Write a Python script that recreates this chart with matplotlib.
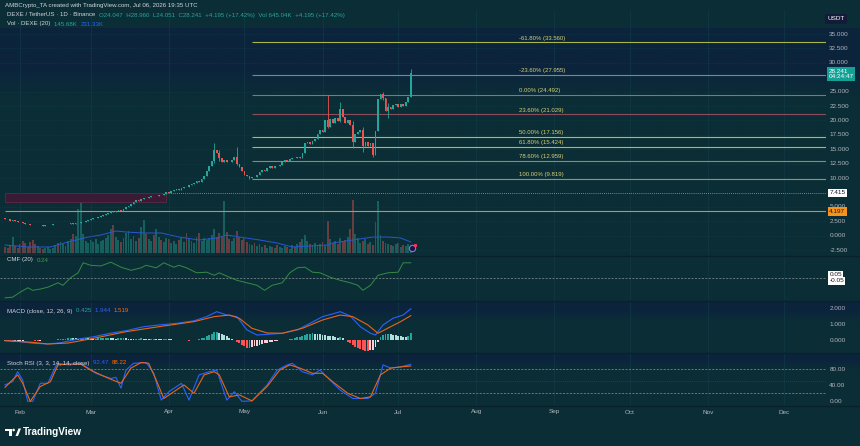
import numpy as np
import pandas as pd
import matplotlib
matplotlib.use("Agg")
import matplotlib.pyplot as plt
from matplotlib.colors import to_rgb
from matplotlib.patches import Rectangle, Polygon, Circle

plt.rcParams['font.family'] = ['Liberation Sans', 'DejaVu Sans']

W, H = 860, 446
BG = '#0b2e36'
TINT = '#0c2140'
TXT = '#b2b5be'
UP, DOWN = '#26a69a', '#ef5350'
BLUE, ORANGE = '#2962ff', '#ff6d00'

start = pd.Timestamp('2026-01-26')

# daily closes DEXE/USDT, Jan 26 .. Jul 06 2026
closes = [
    2.9, 2.8, 2.6, 2.7, 2.5, 2.4, 2.3, 2.2, 2.1, 2.0,
    1.9, 1.85, 1.8, 1.9, 1.8, 1.75, 1.8, 1.85, 1.9, 1.95,
    2.0, 1.95, 2.0, 2.05, 2.0, 2.1, 2.15, 2.1, 2.2, 2.25,
    2.3, 2.4, 2.5, 2.7, 2.9, 3.0, 3.1, 3.3, 3.4, 3.6,
    3.8, 4.0, 4.3, 4.1, 4.3, 4.4, 4.2, 4.6, 4.9, 5.2,
    5.5, 5.8, 6.1, 6.0, 6.4, 6.6, 6.5, 6.7, 6.9, 6.8,
    6.9, 7.1, 7.0, 7.3, 7.5, 7.4, 7.7, 7.9, 8.1, 8.0,
    8.3, 8.5, 8.4, 8.7, 8.9, 9.2, 9.4, 9.3, 9.8, 10.4,
    11.2, 12.0, 13.0, 14.8, 14.3, 13.5, 12.7, 13.1, 12.8, 12.7,
    13.2, 13.6, 12.4, 11.9, 11.3, 10.6, 10.3, 10.0, 10.2, 10.1,
    10.6, 11.0, 11.4, 11.2, 11.7, 12.0, 11.8, 12.1, 12.0, 12.3,
    12.8, 13.1, 12.9, 13.3, 13.5, 13.4, 13.7, 13.5, 14.4, 16.0,
    16.2, 15.9, 16.5, 16.8, 17.6, 18.3, 18.0, 20.0, 18.9, 20.2,
    19.6, 20.4, 19.9, 22.0, 20.6, 19.5, 20.1, 19.2, 16.2, 17.6,
    17.9, 18.4, 15.6, 16.3, 15.5, 16.0, 14.0, 18.2, 23.8, 24.6,
    23.9, 21.6, 22.3, 21.9, 22.6, 22.9, 22.3, 22.8, 22.5, 23.2,
    24.047, 28.241,
]
first_open = 3.0
# days whose wicks stick out: day -> (high, low)
wicks = {83: (16.0, 12.6), 85: (14.9, 13.0), 92: (15.3, 12.2), 97: (10.4, 9.819),
         128: (24.492, 18.6), 133: (23.2, 19.7), 138: (19.9, 15.2), 142: (18.8, 14.5),
         146: (16.0, 13.6), 150: (24.9, 23.5), 152: (23.0, 20.4), 161: (28.96, 24.05)}

# volume, thousands
volumes = [
    120, 100, 160, 320, 140, 100, 180, 240, 200, 120,
    220, 260, 180, 140, 100, 80, 100, 120, 80, 100,
    160, 200, 220, 180, 140, 240, 280, 380, 340, 880,
    1180, 380, 240, 200, 260, 220, 280, 180, 240, 260,
    300, 360, 480, 560, 320, 260, 220, 300, 400, 440,
    280, 340, 240, 300, 520, 660, 380, 280, 240, 360,
    480, 320, 260, 220, 300, 280, 200, 240, 180, 260,
    300, 220, 400, 280, 240, 200, 320, 400, 240, 300,
    260, 300, 360, 480, 320, 400, 340, 1040, 420, 280,
    240, 300, 440, 320, 260, 300, 220, 180, 160, 200,
    140, 180, 120, 160, 100, 140, 120, 100, 160, 120,
    100, 140, 120, 80, 160, 120, 180, 220, 280, 360,
    240, 180, 160, 200, 140, 180, 220, 160, 640, 280,
    200, 240, 180, 300, 220, 260, 320, 480, 1060, 380,
    300, 200, 240, 280, 180, 220, 160, 620, 1040, 360,
    240, 200, 180, 160, 140, 180, 200, 120, 160, 140,
    180, 120,
]
vol_ma_days = [0, 9, 18, 25, 33, 38, 44, 48, 55, 62, 69, 77, 84, 88, 93, 101,
               108, 114, 121, 128, 130, 138, 146, 152, 157, 161]
vol_ma = [160, 120, 120, 220, 320, 360, 440, 420, 400, 400, 320, 260, 300, 360, 320, 260,
          200, 120, 140, 160, 200, 260, 320, 320, 300, 220]

cmf_days = [0, 3, 6, 9, 11, 14, 17, 21, 23, 26, 29, 31, 34, 38, 42, 46, 50, 54, 56, 60,
            63, 67, 69, 72, 76, 80, 83, 85, 89, 92, 96, 100, 103, 106, 110, 113, 116, 119,
            122, 125, 129, 133, 137, 140, 142, 145, 148, 152, 156, 158, 161]
cmf = [-0.32, -0.31, -0.23, -0.16, -0.20, -0.18, -0.15, -0.08, -0.12, 0.0, 0.08, 0.24, 0.20,
       0.19, 0.25, 0.17, 0.12, 0.16, 0.20, 0.16, 0.24, 0.17, 0.20, 0.16, 0.08, 0.09, 0.04,
       0.08, 0.01, -0.04, -0.08, -0.12, -0.20, -0.12, -0.08, 0.08, 0.16, 0.17, 0.09, 0.08,
       0.01, -0.04, -0.08, -0.12, -0.20, -0.12, 0.04, 0.08, 0.09, 0.24, 0.24]

macd_days = [0, 6, 11, 17, 22, 29, 35, 42, 48, 55, 61, 68, 75, 80, 84, 88, 92, 96, 100, 104,
             110, 116, 121, 126, 130, 133, 137, 141, 145, 147, 150, 154, 158, 161]
macd = [-0.04, -0.10, -0.20, -0.25, -0.17, 0.06, 0.20, 0.43, 0.58, 0.83, 0.94, 1.04, 1.20,
        1.46, 1.77, 1.56, 1.46, 0.63, 0.31, 0.35, 0.42, 0.63, 1.04, 1.46, 1.63, 1.77, 1.50,
        0.83, 0.42, 0.31, 0.94, 1.36, 1.56, 1.944]
signal_days = [0, 11, 17, 25, 35, 48, 61, 75, 83, 89, 93, 98, 104, 110, 118, 126, 133, 138,
               144, 148, 153, 157, 161]
signal = [-0.04, -0.15, -0.25, -0.19, 0.10, 0.52, 0.83, 1.15, 1.46, 1.56, 1.35, 0.73, 0.44,
          0.42, 0.73, 1.25, 1.56, 1.46, 0.94, 0.42, 0.83, 1.15, 1.519]
hist = [
    -0.05, -0.06, -0.08, -0.10, -0.08, -0.06, -0.05, -0.04, -0.03, -0.02,
    -0.02, -0.03, -0.04, -0.05, -0.04, -0.03, -0.02, -0.01, 0.01, 0.02,
    0.03, 0.04, 0.05, 0.06, 0.08, 0.10, 0.12, 0.11, 0.10, 0.09,
    0.10, 0.11, 0.12, 0.10, 0.09, 0.08, 0.09, 0.10, 0.11, 0.12,
    0.12, 0.13, 0.12, 0.10, 0.09, 0.10, 0.11, 0.12, 0.10, 0.09,
    0.08, 0.07, 0.08, 0.09, 0.10, 0.08, 0.06, 0.05, 0.06, 0.07,
    0.06, 0.05, 0.04, 0.05, 0.06, 0.05, 0.04, 0.03, 0.02, 0.03,
    0.02, 0.01, -0.02, -0.04, -0.02, 0.01, 0.03, 0.05, 0.10, 0.15,
    0.22, 0.30, 0.38, 0.48, 0.50, 0.45, 0.38, 0.30, 0.22, 0.15,
    0.08, 0.0, -0.10, -0.20, -0.30, -0.40, -0.48, -0.50, -0.45, -0.40,
    -0.35, -0.30, -0.25, -0.20, -0.16, -0.12, -0.10, -0.07, -0.05, -0.03,
    -0.02, 0.0, 0.02, 0.05, 0.08, 0.12, 0.16, 0.20, 0.26, 0.34,
    0.38, 0.40, 0.42, 0.40, 0.38, 0.36, 0.34, 0.30, 0.28, 0.26,
    0.24, 0.20, 0.15, 0.20, 0.10, 0.0, -0.10, -0.20, -0.30, -0.42,
    -0.50, -0.55, -0.62, -0.68, -0.70, -0.65, -0.60, -0.45, -0.10, 0.20,
    0.32, 0.38, 0.40, 0.38, 0.34, 0.30, 0.27, 0.24, 0.20, 0.18,
    0.22, 0.425,
]

k_days = [0, 3, 5, 7, 9, 11, 14, 17, 20, 21, 25, 30, 33, 36, 42, 44, 46, 48, 51, 56, 59, 62,
          65, 70, 73, 77, 81, 84, 88, 91, 94, 98, 104, 108, 112, 114, 118, 122, 125, 129,
          133, 138, 144, 147, 150, 153, 157, 161]
stoch_k = [41, 49, 74, 53, 0, 0, 45, 45, 86, 95, 91, 95, 83, 70, 57, 60, 33, 78, 95, 97, 70, 3,
           24, 45, 3, 66, 74, 78, 3, 24, 0, 1, 41, 78, 91, 95, 74, 66, 78, 53,
           28, 7, 7, 20, 91, 83, 86, 92.47]
d_days = [0, 5, 7, 10, 14, 18, 21, 25, 30, 34, 38, 42, 46, 50, 54, 57, 60, 63, 67, 71, 75, 79,
          83, 85, 89, 93, 98, 104, 109, 113, 117, 122, 126, 130, 136, 141, 145, 149, 153, 157, 161]
stoch_d = [35, 66, 45, 0, 37, 49, 91, 93, 93, 78, 66, 55, 45, 83, 97, 95, 53, 7, 24, 41, 20, 66,
           74, 66, 11, 16, 1, 37, 78, 91, 83, 70, 70, 49, 20, 7, 11, 66, 83, 86, 88.22]

# fibonacci retracement drawn from the May low
fib_labels = ['-61.80%', '-23.60%', '0.00%', '23.60%', '50.00%', '61.80%', '78.60%', '100.00%']
fib_prices = [33.560, 27.955, 24.492, 21.029, 17.156, 15.424, 12.959, 9.819]
fib_colors = ['#a8b848', '#8e8270', '#8a7470', '#8c4c5c', '#b4bc44', '#c0b444', '#958c52', '#a88c52']
fib_start = 98

price_ticks = [35, 32.5, 30, 25, 22.5, 20, 17.5, 15, 12.5, 10, 5, 2.5, 0, -2.5]
months = ['Feb', 'Mar', 'Apr', 'May', 'Jun', 'Jul', 'Aug', 'Sep', 'Oct', 'Nov', 'Dec']

# ---------------------------------------------------------------
fig = plt.figure(figsize=(W / 100, H / 100), dpi=100, facecolor=BG)
XR = 826  # right edge of the panes in px
XLIM = (-2.0, (XR - 5) / 2.52)

# background: darker navy tint near the top of some panes
bga = fig.add_axes([0, 0, 1, 1], zorder=-5)
bga.axis('off')
rows = np.zeros(H)
for top, full, fade in ((28, 70, 100), (301, 310, 322), (353, 360, 370)):
    yy = np.arange(H)
    w = np.where((yy >= top) & (yy <= full), 1.0, 0.0)
    w = np.maximum(w, np.where((yy > full) & (yy < fade), (fade - yy) / (fade - full), 0.0))
    rows = np.maximum(rows, w * 0.7)
c0, c1 = np.array(to_rgb(BG)), np.array(to_rgb(TINT))
img = (c0[None, :] * (1 - rows[:, None]) + c1[None, :] * rows[:, None])[:, None, :]
bga.imshow(img, aspect='auto', extent=(0, W, H, 0))
bga.set_xlim(0, W)
bga.set_ylim(H, 0)


def pane(top, bottom, ylim):
    a = fig.add_axes([0, 1 - bottom / H, XR / W, (bottom - top) / H])
    a.set_facecolor('none')
    a.set_xlim(*XLIM)
    a.set_ylim(*ylim)
    for s in a.spines.values():
        s.set_visible(False)
    a.set_xticks([])
    a.set_yticks([])
    return a


month_days = [(pd.Timestamp(f'2026-{m:02d}-01') - start).days for m in range(2, 13)]
days = np.arange(len(closes))
opens = [first_open] + closes[:-1]
highs = [max(o, c) for o, c in zip(opens, closes)]
lows = [min(o, c) for o, c in zip(opens, closes)]
for d, (hi, lo) in wicks.items():
    highs[d], lows[d] = hi, lo
cols = [UP if c >= o else DOWN for o, c in zip(opens, closes)]

# volume overlay (behind candles)
axv = pane(10, 255, (-40, 4860))
axv.bar(days, volumes, width=0.75, color=cols, alpha=0.42, lw=0)
axv.plot(vol_ma_days, vol_ma, color='#2a56d8', lw=0.7)

# price
ax = pane(10, 255, ((235.6 - 255) / 5.76, (235.6 - 10) / 5.76))
for t in price_ticks:
    ax.axhline(t, color='#174650', lw=0.4, ls=(0, (1, 2)), zorder=0)
for md in month_days:
    ax.axvline(md, color='#133d48', lw=0.4, zorder=0)

ax.add_patch(Rectangle((0, 5.85), 64, 7.415 - 5.85, fc='#3a1a34', ec='#5a2a48', lw=0.6, zorder=1))
ax.hlines(7.415, 64, XLIM[1], color='#9aa0aa', lw=0.6, ls=(0, (1, 1.5)), zorder=1)
ax.hlines(4.197, 0, XLIM[1], color='#c8913a', lw=0.8, zorder=1)

ax.vlines(days, lows, highs, colors=cols, lw=0.6, zorder=3)
body = np.maximum(np.abs(np.array(closes) - np.array(opens)), 0.06)
ax.bar(days, body, bottom=np.minimum(opens, closes), width=0.7, color=cols, lw=0, zorder=3)

for lab, p, c in zip(fib_labels, fib_prices, fib_colors):
    ax.hlines(p, fib_start, XLIM[1], color=c, lw=0.8, zorder=2)
    ax.annotate(f'{lab} ({p:.3f})', xy=(204, p), xytext=(0, 1.2), textcoords='offset points',
                color='#d6cf78', fontsize=4.3, ha='left', va='bottom')

ax.plot([161.6], [-2.2], 'o', ms=4.5, mfc='#1c1440', mec='#8f78d0', mew=0.8, zorder=4)
ax.plot([162.6], [-1.6], 's', ms=1.2, color='#ff3060', zorder=5)

yt = ax.get_yaxis_transform()
for t in price_ticks:
    ax.text(1.004, t, f'{t:.3f}', transform=yt, color=TXT, fontsize=4.6, va='center', ha='left')
ax.text(1.003, 28.241 + 0.7, '28.241\n04:24:47', transform=yt, color='white', fontsize=4.6,
        va='top', ha='left', linespacing=1.15,
        bbox=dict(boxstyle='square,pad=0.25', fc='#12a195', ec='none'))
ax.text(1.004, 7.415, '7.415', transform=yt, color='#131722', fontsize=4.6, va='center',
        ha='left', bbox=dict(boxstyle='square,pad=0.25', fc='white', ec='none'))
ax.text(1.004, 4.197, '4.197', transform=yt, color='#131722', fontsize=4.6, va='center',
        ha='left', bbox=dict(boxstyle='square,pad=0.25', fc='#f7931a', ec='none'))

# CMF
ac = pane(256, 300, ((277.8 - 300) * 0.016, (277.8 - 256) * 0.016))
for md in month_days:
    ac.axvline(md, color='#133d48', lw=0.4, zorder=0)
ac.axhline(0, color='#8a8f9a', lw=0.5, ls=(0, (3, 2)))
ac.plot(cmf_days, cmf, color='#358a44', lw=0.7)
yt = ac.get_yaxis_transform()
for v in (0.05, -0.05):
    ac.text(1.004, v, f'{v:.2f}', transform=yt, color='#131722', fontsize=4.6, va='center',
            ha='left', bbox=dict(boxstyle='square,pad=0.2', fc='white', ec='none'))

# MACD
am = pane(301, 352, ((340 - 352) / 16, (340 - 301) / 16))
for md in month_days:
    am.axvline(md, color='#133d48', lw=0.4, zorder=0)
hcols = []
for i, v in enumerate(hist):
    prev = hist[i - 1] if i else v
    if v >= 0:
        hcols.append('#26a69a' if v >= prev else '#b2dfdb')
    else:
        hcols.append('#ff5252' if v < prev else '#ffcdd2')
am.bar(days, hist, width=0.75, color=hcols, lw=0)
am.plot(macd_days, macd, color=BLUE, lw=0.8)
am.plot(signal_days, signal, color='#e8651a', lw=0.8)
yt = am.get_yaxis_transform()
for v in (2, 1, 0):
    am.text(1.004, v, f'{v:.3f}', transform=yt, color=TXT, fontsize=4.6, va='center', ha='left')

# Stoch RSI
ak = pane(353, 405, ((401.3 - 405) / 0.4, (401.3 - 353) / 0.4))
for md in month_days:
    ak.axvline(md, color='#133d48', lw=0.4, zorder=0)
ak.axhline(80, color='#8a8f9a', lw=0.5, ls=(0, (3, 2)))
ak.axhline(50, color='#2a4f8a', lw=0.5, ls=(0, (1, 2)))
ak.axhline(20, color='#8a8f9a', lw=0.5, ls=(0, (3, 2)))
ak.plot(k_days, stoch_k, color=BLUE, lw=0.8)
ak.plot(d_days, stoch_d, color='#e8651a', lw=0.8)
yt = ak.get_yaxis_transform()
for v in (80, 40, 0):
    ak.text(1.004, v, f'{v:.2f}', transform=yt, color=TXT, fontsize=4.6, va='center', ha='left')
for md, m in zip(month_days, months):
    ak.text(md, (401.3 - 412) / 0.4, m, color=TXT, fontsize=4.6, ha='center', va='center')

# overlay in pixel coordinates for the legends and frame
ov = fig.add_axes([0, 0, 1, 1])
ov.set_xlim(0, W)
ov.set_ylim(H, 0)
ov.axis('off')
for y in (255.5, 300.5, 352.5, 405.5):
    ov.hlines(y, 0, W, color='#08212a', lw=1.0)


def row(x, y, parts, size=4.4):
    t = ov.text(x, y, parts[0][0], color=parts[0][1], fontsize=size, va='center', ha='left')
    for s, c in parts[1:]:
        t = ov.annotate(s, xy=(1, 0), xycoords=t, color=c, fontsize=size, va='bottom', ha='left')


row(5, 5, [('AMBCrypto_TA created with TradingView.com, Jul 06, 2026 19:35 UTC', '#d1d4dc')])
row(7, 15, [('DEXE / TetherUS · 1D · Binance  ', '#d1d4dc'),
            ('O24.047  H28.960  L24.051  C28.241  +4.195 (+17.42%)  Vol 645.04K  +4.195 (+17.42%)', UP)])
row(7, 24, [('Vol · DEXE (20)  ', '#d1d4dc'), ('145.68K  ', UP), ('231.33K', BLUE)])
row(7, 260, [('CMF (20)  ', '#d1d4dc'), ('0.24', '#3e9a4c')])
row(7, 311, [('MACD (close, 12, 26, 9)  ', '#d1d4dc'), ('0.425  ', UP), ('1.944  ', BLUE),
             ('1.519', ORANGE)])
row(7, 363, [('Stoch RSI (3, 3, 14, 14, close)  ', '#d1d4dc'), ('92.47  ', BLUE),
             ('88.22', ORANGE)])

ov.text(836, 19, 'USDT', color='white', fontsize=4.6, ha='center', va='center',
        bbox=dict(boxstyle='square,pad=0.35', fc='#131a3a', ec='none'))

# TradingView logo
ov.add_patch(Polygon([(5, 428.5), (11.5, 428.5), (11.5, 436), (8.8, 436), (8.8, 431), (5, 431)],
                     closed=True, fc='white', ec='none'))
ov.add_patch(Circle((13.6, 430), 1.3, fc='white', ec='none'))
ov.add_patch(Polygon([(15.5, 436), (18.5, 428.5), (21, 428.5), (18, 436)], closed=True,
                     fc='white', ec='none'))
ov.text(23, 432.3, 'TradingView', color='white', fontsize=7.2, ha='left', va='center',
        fontweight='semibold')

fig.savefig('out.png', dpi=100, facecolor=BG)
